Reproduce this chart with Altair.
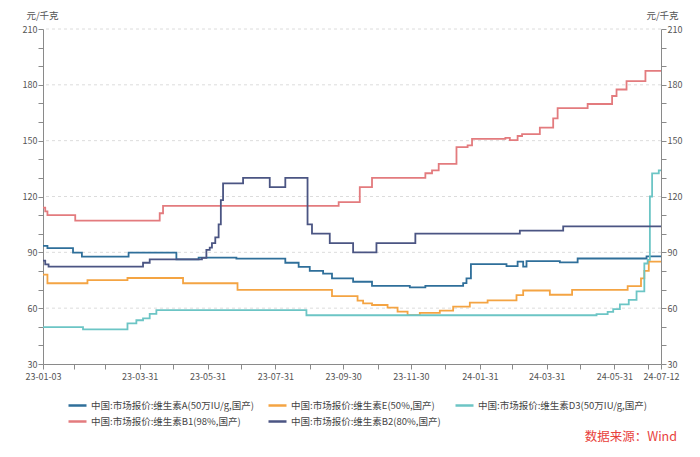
import altair as alt
import pandas as pd

# ---- data ----
series_names = [
    "中国:市场报价:维生素A(50万IU/g,国产)",
    "中国:市场报价:维生素E(50%,国产)",
    "中国:市场报价:维生素D3(50万IU/g,国产)",
    "中国:市场报价:维生素B1(98%,国产)",
    "中国:市场报价:维生素B2(80%,国产)",
]
series_colors = ["#2f6f9a", "#f4a443", "#6cc5c5", "#e37b7e", "#4b5583"]

va_dates = ["2023-01-03", "2023-01-07", "2023-01-30", "2023-02-07", "2023-03-21", "2023-05-03",
            "2023-05-23", "2023-06-26", "2023-08-09", "2023-08-21", "2023-08-31", "2023-09-12",
            "2023-09-20", "2023-10-09", "2023-10-26", "2023-11-29", "2023-12-13", "2024-01-16",
            "2024-01-19", "2024-01-23", "2024-02-24", "2024-03-05", "2024-03-10", "2024-03-13",
            "2024-04-12", "2024-04-28", "2024-06-29", "2024-07-12"]
va_values = [93.5, 92.3, 89.8, 87.7, 89.8, 86.2,
             87.2, 86.6, 84.4, 82.2, 80.0, 78.6,
             76.0, 74.2, 72.0, 71.2, 72.0, 73.5,
             76.0, 83.7, 82.6, 85.0, 82.3, 85.3,
             84.6, 86.7, 87.8, 87.8]

ve_dates = ["2023-01-03", "2023-01-07", "2023-02-12", "2023-03-20", "2023-05-09", "2023-06-27",
            "2023-09-20", "2023-10-13", "2023-10-18", "2023-10-26", "2023-11-09", "2023-11-18",
            "2023-11-27", "2023-12-08", "2023-12-26", "2024-01-07", "2024-01-22", "2024-02-07",
            "2024-03-04", "2024-03-10", "2024-04-03", "2024-04-23", "2024-06-12", "2024-06-24",
            "2024-06-27", "2024-07-01", "2024-07-12"]
ve_values = [78.0, 73.4, 75.1, 76.2, 73.4, 69.8,
             66.5, 64.0, 62.6, 61.7, 60.3, 58.1,
             56.3, 57.5, 58.7, 60.8, 63.0, 64.2,
             67.0, 69.5, 67.2, 69.8, 71.8, 76.0,
             80.0, 85.0, 85.0]

vd3_dates = ["2023-01-03", "2023-02-08", "2023-03-20", "2023-03-28", "2023-04-03", "2023-04-09",
             "2023-04-15", "2023-08-28", "2024-05-15", "2024-05-25", "2024-05-30", "2024-06-05",
             "2024-06-13", "2024-06-20", "2024-06-27", "2024-06-30", "2024-07-02", "2024-07-04",
             "2024-07-10", "2024-07-12"]
vd3_values = [49.8, 48.6, 51.8, 53.5, 54.5, 56.9,
              59.0, 56.2, 56.8, 58.0, 59.5, 62.0,
              64.5, 69.0, 84.0, 86.0, 120.0, 132.4,
              134.0, 134.0]

vb1_dates = ["2023-01-03", "2023-01-05", "2023-01-07", "2023-02-01", "2023-04-18", "2023-04-21",
             "2023-09-26", "2023-10-15", "2023-10-26", "2023-12-13", "2023-12-19", "2023-12-25",
             "2024-01-10", "2024-01-20", "2024-01-24", "2024-02-23", "2024-02-27", "2024-03-05",
             "2024-03-09", "2024-03-25", "2024-04-06", "2024-04-10", "2024-05-07", "2024-05-29",
             "2024-06-02", "2024-06-11", "2024-06-28", "2024-07-12"]
vb1_values = [114.0, 112.0, 110.0, 107.0, 111.0, 115.0,
              117.0, 125.0, 130.0, 132.5, 134.0, 137.5,
              146.5, 147.5, 151.0, 151.5, 150.3, 152.5,
              153.5, 157.0, 162.0, 167.5, 169.7, 174.0,
              177.5, 182.0, 187.5, 187.5]

vb2_dates = ["2023-01-03", "2023-01-05", "2023-01-08", "2023-04-03", "2023-04-09", "2023-05-26",
             "2023-05-30", "2023-06-02", "2023-06-04", "2023-06-07", "2023-06-10", "2023-06-12",
             "2023-06-14", "2023-07-02", "2023-07-26", "2023-08-09", "2023-08-29", "2023-09-02",
             "2023-09-18", "2023-10-09", "2023-10-30", "2023-12-04", "2024-03-07", "2024-04-15",
             "2024-07-12"]
vb2_values = [85.5, 83.5, 82.3, 84.4, 86.2, 87.0,
              91.3, 92.5, 95.0, 98.0, 105.0, 118.0,
              127.0, 130.0, 125.0, 130.0, 105.0, 100.0,
              95.0, 90.0, 95.0, 100.0, 101.7, 104.0,
              104.0]

y_tick_values = list(range(30, 211, 10))
y_label_values = [30, 60, 90, 120, 150, 180, 210]
grid_values = [60, 90, 120, 150, 180, 210]
x_label_list = ["23-01-03", "23-03-31", "23-05-31", "23-07-31", "23-09-30",
                "23-11-30", "24-01-31", "24-03-31", "24-05-31", "24-07-12"]
unit_text = "元/千克"
source_text = "数据来源：Wind"

# ---- build table ----
frames = []
for name, d, v in zip(series_names,
                      [va_dates, ve_dates, vd3_dates, vb1_dates, vb2_dates],
                      [va_values, ve_values, vd3_values, vb1_values, vb2_values]):
    frames.append(pd.DataFrame({"date": pd.to_datetime(d), "value": v, "series": name}))
df = pd.concat(frames, ignore_index=True)

# x ticks: start, month ends, end
month_ends = pd.date_range("2023-01-31", "2024-06-30", freq="ME")
tick_dates = [pd.Timestamp("2023-01-03")] + list(month_ends) + [pd.Timestamp("2024-07-12")]
x_tick_values = [alt.DateTime(year=t.year, month=t.month, date=t.day) for t in tick_dates]
x_label_expr = ("indexof([" + ",".join("'%s'" % s for s in x_label_list) +
                "], timeFormat(datum.value, '%y-%m-%d')) >= 0 ? timeFormat(datum.value, '%y-%m-%d') : ''")
y_label_expr = "indexof([" + ",".join(str(v) for v in y_label_values) + "], datum.value) >= 0 ? datum.label : ''"

x_scale = alt.Scale(domain=[alt.DateTime(year=2023, month=1, date=3),
                            alt.DateTime(year=2024, month=7, date=12)])
y_scale = alt.Scale(domain=[30, 210], nice=False, zero=False)

FONT = "Noto Sans CJK SC"
axis_common = dict(values=y_tick_values, labelExpr=y_label_expr, grid=False,
                   domainColor="#8a8a8a", tickColor="#8a8a8a", tickSize=5,
                   labelColor="#555555", labelFontSize=9, labelFont=FONT,
                   title=unit_text, titleAngle=0, titleFontSize=9.5, titleFont=FONT,
                   titleFontWeight="normal", titleColor="#555555", titleAlign="center",
                   titleBaseline="bottom", titleY=-9, labelPadding=1)

grid_df = pd.DataFrame({"g": grid_values})
grid = alt.Chart(grid_df).mark_rule(color="#dcdcdc", strokeDash=[3, 3], strokeWidth=1).encode(
    y=alt.Y("g:Q", scale=y_scale,
            axis=alt.Axis(orient="right", titleX=1, **axis_common)),
)

lines = alt.Chart(df).mark_line(interpolate="step-after", strokeWidth=1.8).encode(
    x=alt.X("date:T", scale=x_scale, title=None,
            axis=alt.Axis(values=x_tick_values, labelExpr=x_label_expr, grid=False,
                          labelOverlap=False, labelFlush=False, tickSize=5,
                          domainColor="#8a8a8a", tickColor="#8a8a8a",
                          labelColor="#555555", labelFontSize=9, labelFont=FONT,
                          labelPadding=3)),
    y=alt.Y("value:Q", scale=y_scale,
            axis=alt.Axis(orient="left", titleX=-1, **axis_common)),
    color=alt.Color("series:N", scale=alt.Scale(domain=series_names, range=series_colors),
                    sort=series_names,
                    legend=alt.Legend(title=None, orient="none", legendX=24, legendY=366,
                                      direction="horizontal", columns=3, gridAlign="none",
                                      symbolType="stroke", symbolSize=324, symbolStrokeWidth=2.5,
                                      labelFontSize=9.5, labelFont=FONT, labelColor="#444444",
                                      columnPadding=9, rowPadding=0, labelOffset=3,
                                      labelLimit=400)),
)

src = alt.Chart(pd.DataFrame({"t": [source_text]})).mark_text(
    align="right", baseline="middle", fontSize=12.5, font=FONT, color="#e8413c"
).encode(text="t:N", x=alt.value(634), y=alt.value(408))

chart = alt.layer(grid, lines, src).resolve_scale(y="shared").resolve_axis(y="independent").properties(
    width=618, height=335,
    autosize=alt.AutoSizeParams(type="none"),
    padding={"left": 35, "top": 21, "right": 23, "bottom": 85},
).configure_view(stroke=None)

chart.save("out.html", embed_options={"renderer": "svg", "actions": False})
